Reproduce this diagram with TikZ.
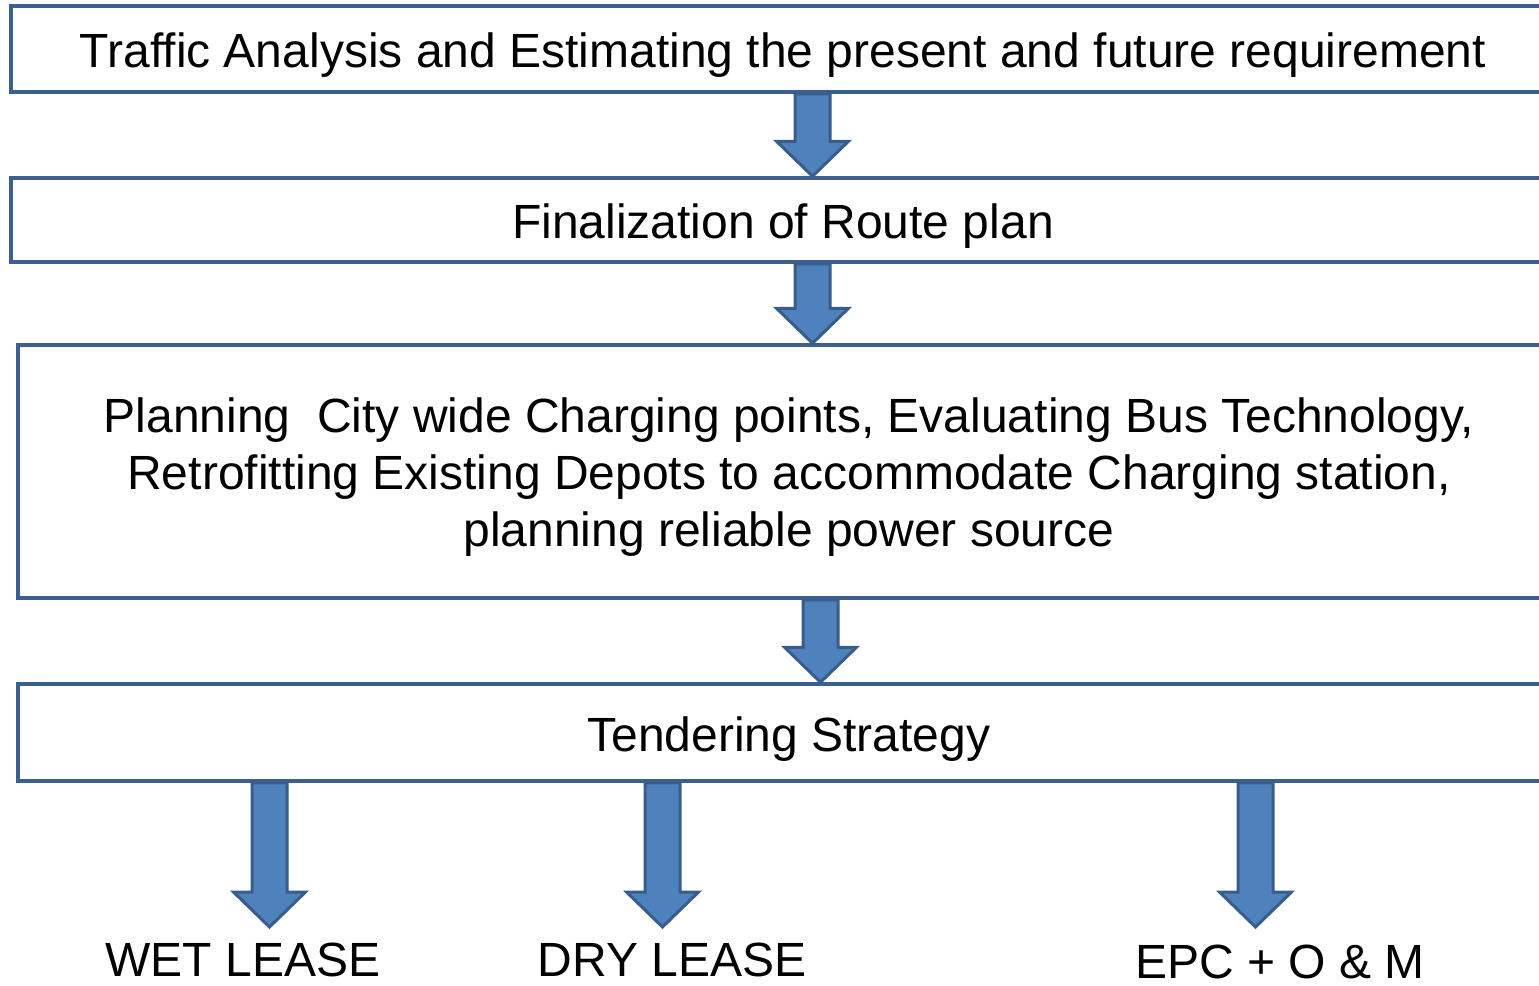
\documentclass[tikz,border=0pt]{standalone}
\usepackage{fontspec}
\setmainfont{Liberation Sans}
\usetikzlibrary{calc}

\definecolor{boxline}{HTML}{3B6090}
\definecolor{arrowfill}{HTML}{4F81BD}
\definecolor{arrowline}{HTML}{385D8A}

\tikzset{
  stagebox/.style={draw=boxline, line width=3.5pt, fill=white, inner sep=0pt,
    align=center, font=\fontsize{48}{57}\selectfont},
  oneline/.style={text height=37pt, text depth=0pt},
  blockarrow/.style={draw=arrowline, fill=arrowfill, line width=3pt, line join=miter},
  leaselabel/.style={inner sep=0pt, font=\fontsize{48}{57}\selectfont}
}

% thick block arrow pointing down from #1 to the tip #2
\newcommand{\flowarrow}[2]{%
  \draw[blockarrow] let \p1=(#1), \p2=(#2) in
    (\x1-17.5pt,\y1) -- (\x1+17.5pt,\y1) -- (\x1+17.5pt,\y2+35pt) --
    (\x1+36pt,\y2+35pt) -- (\x2,\y2) -- (\x1-36pt,\y2+35pt) --
    (\x1-17.5pt,\y2+35pt) -- cycle;}

\begin{document}
\begin{tikzpicture}[x=1pt,y=-1pt]
\useasboundingbox (0,0) rectangle (1539,985);

% stages
\node[stagebox, oneline, minimum width=1544pt, minimum height=86pt] (traffic) at (783,49)
  {Traffic Analysis and Estimating the present and future requirement};
\node[stagebox, oneline, minimum width=1544pt, minimum height=84pt] (route) at (783,220)
  {Finalization of Route plan};
\node[stagebox, minimum width=1542pt, minimum height=253pt] (planning) at (789,471.5)
  {\rule{0pt}{46pt}Planning~ City wide Charging points, Evaluating Bus Technology,\\
   Retrofitting Existing Depots to accommodate Charging station,\\
   planning reliable power source};
\node[stagebox, oneline, minimum width=1542pt, minimum height=97pt] (tender) at (789,732.5)
  {Tendering Strategy};

% outcomes
\node[leaselabel] (wet) at (243,960) {WET LEASE};
\node[leaselabel] (dry) at (672,960) {DRY LEASE};
\node[leaselabel] (epc) at (1280,962) {EPC + O \& M};

% arrow start points and tips
\coordinate (a1s) at (traffic.south -| 812.5,0);
\coordinate (a1t) at (route.north -| 812.5,0);
\coordinate (a2s) at (route.south -| 812.5,0);
\coordinate (a2t) at (planning.north -| 812.5,0);
\coordinate (a3s) at (planning.south -| 820.5,0);
\coordinate (a3t) at (tender.north -| 820.5,0);
\coordinate (b1s) at (tender.south -| 269.5,0);
\coordinate (b2s) at (tender.south -| 662.5,0);
\coordinate (b3s) at (tender.south -| 1255.5,0);
\coordinate (b1t) at (269.5,927);
\coordinate (b2t) at (662.5,927);
\coordinate (b3t) at (1255.5,927);

\flowarrow{a1s}{a1t}
\flowarrow{a2s}{a2t}
\flowarrow{a3s}{a3t}
\flowarrow{b1s}{b1t}
\flowarrow{b2s}{b2t}
\flowarrow{b3s}{b3t}
\end{tikzpicture}
\end{document}
